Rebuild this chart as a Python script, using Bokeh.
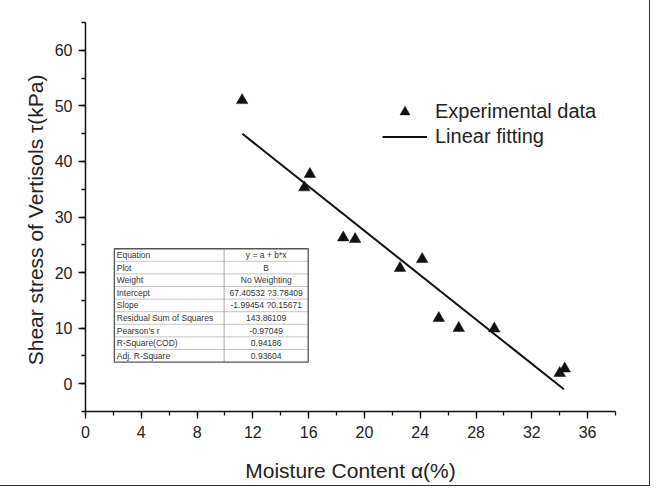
from bokeh.plotting import figure
from bokeh.models import SingleIntervalTicker, Legend, LegendItem, Range1d
from bokeh.core.properties import value
from bokeh.embed import file_html
from bokeh.resources import INLINE

# ---- data ----
moisture = [11.23, 15.69, 16.09, 18.48, 19.33, 22.55, 24.14, 25.33, 26.76, 29.31, 34.00, 34.36]
shear = [51.0, 35.3, 37.7, 26.3, 26.0, 20.8, 22.4, 11.8, 10.0, 9.9, 1.9, 2.7]

fit_x = [11.25, 34.3]
fit_y = [44.97, -1.01]

table_labels = ["Equation", "Plot", "Weight", "Intercept", "Slope",
                "Residual Sum of Squares", "Pearson's r", "R-Square(COD)", "Adj. R-Square"]
table_values = ["y = a + b*x", "B", "No Weighting", "67.40532 ?3.78409", "-1.99454 ?0.15671",
                "143.86109", "-0.97049", "0.94186", "0.93604"]

x_label = "Moisture Content α(%)"
y_label = "Shear stress of Vertisols  τ(kPa)"
legend_labels = ["Experimental data", "Linear fitting"]

FONT = "Liberation Sans"
INK = "#111111"
TXT = "#222222"

p = figure(width=649, height=485, output_backend="svg", toolbar_location=None,
           x_range=Range1d(0, 38), y_range=Range1d(-5, 65),
           min_border_left=85, min_border_right=34, min_border_top=22, min_border_bottom=74,
           styles={"outline": "1px solid #333"})
p.outline_line_color = None
p.xgrid.visible = False
p.ygrid.visible = False
p.background_fill_color = "white"
p.border_fill_color = "white"

# ---- table (annotation) geometry in data units ----
tx0, tmid, tx1 = 2.07, 9.94, 15.97
ttop, row_h = 24.29, 2.266
n = len(table_labels)
tbot = ttop - n * row_h
row_c = [ttop - (i + 0.5) * row_h for i in range(n)]
row_lines = [ttop - i * row_h for i in range(1, n)]

p.quad(left=tx0, right=tx1, top=ttop, bottom=tbot, fill_color="white", line_color=None)
p.segment(x0=[tx0] * (n - 1), x1=[tx1] * (n - 1), y0=row_lines, y1=row_lines,
          line_color="#c4c4c4", line_width=1)
p.segment(x0=[tmid], x1=[tmid], y0=[ttop], y1=[tbot], line_color="#a8a8a8", line_width=1)
p.quad(left=tx0, right=tx1, top=ttop, bottom=tbot, fill_color=None, line_color="#555555", line_width=1.3)
p.text(x=[tx0 + 0.17] * n, y=row_c, text=table_labels, text_font=value(FONT),
       text_font_size="8.5px", text_baseline="middle", text_align="left", text_color="#333333")
p.text(x=[(tmid + tx1) / 2] * n, y=row_c, text=table_values, text_font=value(FONT),
       text_font_size="8.5px", text_baseline="middle", text_align="center", text_color="#333333")

# ---- data ----
pts = p.scatter(moisture, shear, marker="triangle", size=11.5, fill_color=INK, line_color=INK, line_width=0.5)
fit = p.line(fit_x, fit_y, line_width=2, line_color=INK)

legend = Legend(items=[LegendItem(label=legend_labels[0], renderers=[pts]),
                       LegendItem(label=legend_labels[1], renderers=[fit])],
                location=(297, 262), padding=0, margin=0, spacing=0,
                glyph_width=45, glyph_height=25, label_height=25, label_standoff=8,
                label_text_font=FONT, label_text_font_size="20px", label_text_color=TXT,
                background_fill_alpha=0, border_line_color=None)
p.add_layout(legend)

# ---- axes ----
p.xaxis.ticker = SingleIntervalTicker(interval=4, num_minor_ticks=2)
p.yaxis.ticker = SingleIntervalTicker(interval=10, num_minor_ticks=2)
for ax in (p.xaxis, p.yaxis):
    ax.axis_line_color = INK
    ax.axis_line_width = 1.5
    ax.major_tick_line_color = INK
    ax.major_tick_line_width = 1.3
    ax.minor_tick_line_color = INK
    ax.minor_tick_line_width = 1.3
    ax.major_tick_in = 0
    ax.major_tick_out = 7
    ax.minor_tick_in = 0
    ax.minor_tick_out = 4
    ax.major_label_text_font = FONT
    ax.major_label_text_font_size = "16px"
    ax.major_label_text_color = TXT
    ax.axis_label_text_font = FONT
    ax.axis_label_text_font_size = "21px"
    ax.axis_label_text_font_style = "normal"
    ax.axis_label_text_color = TXT
p.xaxis.axis_label = x_label
p.yaxis.axis_label = y_label
p.xaxis.major_label_standoff = 7
p.yaxis.major_label_standoff = 6
p.xaxis.axis_label_standoff = 18
p.yaxis.axis_label_standoff = 5

open("out.html", "w").write(file_html(p, INLINE))
